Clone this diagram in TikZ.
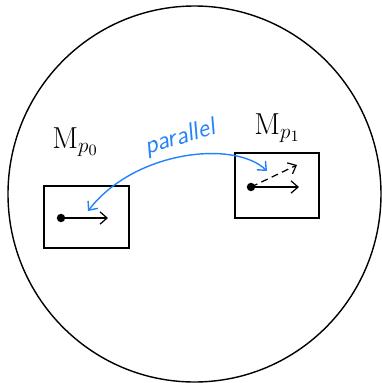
\documentclass[tikz,border=0pt]{standalone}
\usepackage{amsmath}
\usetikzlibrary{arrows.meta}
\definecolor{penblue}{RGB}{35,130,250}

\begin{document}
\begin{tikzpicture}[x=0.02cm,y=-0.02cm,>={Straight Barb[length=4pt,width=7pt]}]
\useasboundingbox (0,0) rectangle (382,383);
\tikzset{tspace/.style={line width=0.9pt},
vec/.style={->,line width=0.7pt},
lbl/.style={anchor=base west,inner sep=0pt,font=\fontsize{18}{20}\selectfont}}
\coordinate (O) at (194.5,194);
\coordinate (p0) at (61,218);
\coordinate (v0) at (108,218);
\coordinate (p1) at (251,187);
\coordinate (v1) at (299,187);
\coordinate (w1) at (297,165);
\coordinate (a) at (88,211);
\coordinate (b) at (267,171);
\draw[line width=0.8pt] (O) ellipse [x radius=186.5,y radius=188];
%tangent spaces
\draw[tspace] (44,186) rectangle (129,248);
\draw[tspace] (235,153) rectangle (319,218);
\node[lbl] (Mp0) at (52,148) {$\mathrm{M}_{p_0}$};
\node[lbl] (Mp1) at (254,134) {$\mathrm{M}_{p_1}$};
\fill (p0) circle (2.4pt);
\fill (p1) circle (2.4pt);
\draw[vec] (p0)--(v0);
\draw[vec] (p1)--(v1);
\draw[vec,dash pattern=on 4pt off 2.5pt] (p1)--(w1);
%transport
\draw[<->,penblue,line width=0.8pt] (a) .. controls (135,150) and (235,140) .. (b);
\node[penblue,rotate=17,font=\sffamily\itshape\Large] (par) at (180,138) {parallel};
\end{tikzpicture}
\end{document}
